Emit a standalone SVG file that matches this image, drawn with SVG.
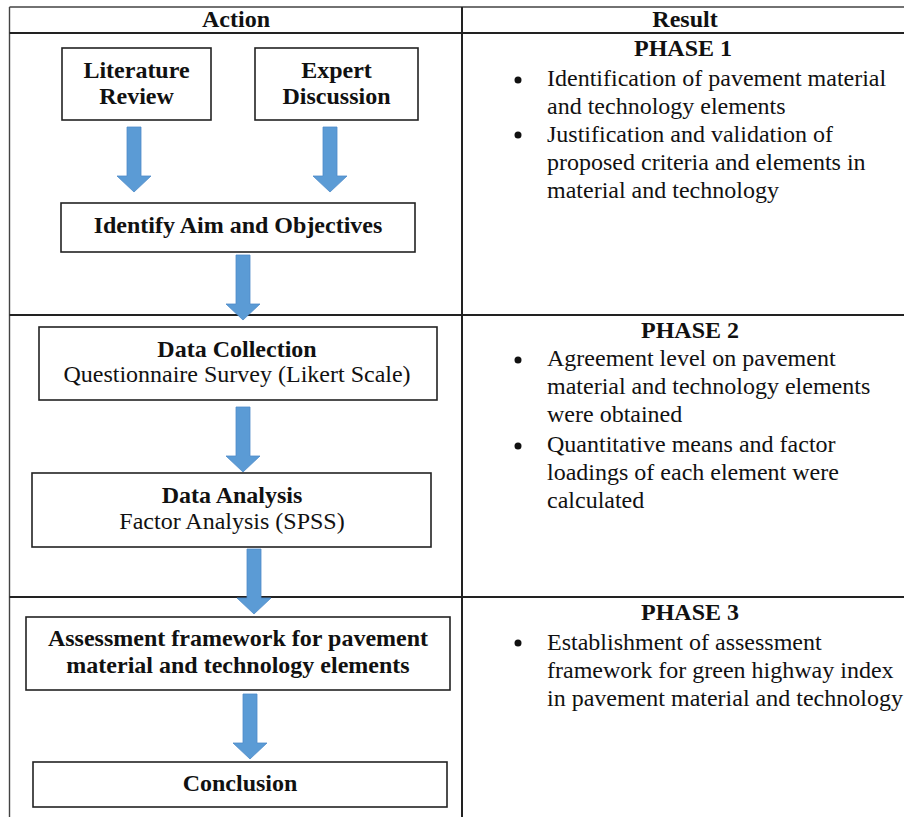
<svg xmlns="http://www.w3.org/2000/svg" width="904" height="817" viewBox="0 0 904 817">
<style>
text{font-family:"Liberation Serif","Times New Roman",serif;font-size:24px;fill:#111}
.b{font-weight:bold}
.c{text-anchor:middle}
.grid{stroke:#222;stroke-width:2;fill:none}
.thin{stroke:#444;stroke-width:1.4;fill:none}
.box{fill:#fff;stroke:#222;stroke-width:1.6}
.arr{fill:#5B9BD5;stroke:#4F8CC9;stroke-width:0.8}
</style>
<defs>
<polygon id="arrow" points="-7,0 7,0 7,49 17,49 0,65 -17,49 -7,49"/>
</defs>
<rect width="904" height="817" fill="#fff"/>
<g id="table">
<path class="thin" d="M9.5,7 H904 M9.5,7 V817"/>
<path class="grid" d="M9.5,33 H904 M9.5,315 H904 M9.5,597 H904 M462,7 V817"/>
<text class="b c" x="236" y="27">Action</text>
<text class="b c" x="685" y="27">Result</text>
</g>
<g id="connectors">
<use href="#arrow" class="arr" x="134" y="127"/>
<use href="#arrow" class="arr" x="330" y="127"/>
<use href="#arrow" class="arr" x="243" y="255"/>
<use href="#arrow" class="arr" x="243" y="407"/>
<use href="#arrow" class="arr" x="254" y="549"/>
<use href="#arrow" class="arr" x="250" y="694"/>
</g>
<g id="literature">
<rect class="box" x="62" y="48" width="149" height="72"/>
<text class="b c" x="136.5" y="78">Literature</text>
<text class="b c" x="136.5" y="104">Review</text>
</g>
<g id="expert">
<rect class="box" x="255" y="48" width="163" height="72"/>
<text class="b c" x="336.5" y="78">Expert</text>
<text class="b c" x="336.5" y="104">Discussion</text>
</g>
<g id="aim">
<rect class="box" x="61" y="203" width="354" height="49"/>
<text class="b c" x="238" y="233">Identify Aim and Objectives</text>
</g>
<g id="collection">
<rect class="box" x="39" y="327" width="398" height="73"/>
<text class="b c" x="237" y="357">Data Collection</text>
<text class="c" x="237" y="382">Questionnaire Survey (Likert Scale)</text>
</g>
<g id="analysis">
<rect class="box" x="32" y="473" width="399" height="74"/>
<text class="b c" x="232" y="503">Data Analysis</text>
<text class="c" x="232" y="529">Factor Analysis (SPSS)</text>
</g>
<g id="framework">
<rect class="box" x="26" y="617" width="424" height="73"/>
<text class="b c" x="238" y="646">Assessment framework for pavement</text>
<text class="b c" x="238" y="673">material and technology elements</text>
</g>
<g id="conclusion">
<rect class="box" x="33" y="762" width="414" height="45"/>
<text class="b c" x="240" y="791">Conclusion</text>
</g>
<g id="phase1">
<text class="b c" x="683" y="56">PHASE 1</text>
<circle cx="518" cy="80" r="3.5" fill="#111"/>
<text x="547" y="86">Identification of pavement material</text>
<text x="547" y="114">and technology elements</text>
<circle cx="518" cy="135" r="3.5" fill="#111"/>
<text x="547" y="142">Justification and validation of</text>
<text x="547" y="170">proposed criteria and elements in</text>
<text x="547" y="198">material and technology</text>
</g>
<g id="phase2">
<text class="b c" x="690" y="338">PHASE 2</text>
<circle cx="518" cy="360" r="3.5" fill="#111"/>
<text x="547" y="366">Agreement level on pavement</text>
<text x="547" y="394">material and technology elements</text>
<text x="547" y="422">were obtained</text>
<circle cx="518" cy="446" r="3.5" fill="#111"/>
<text x="547" y="452">Quantitative means and factor</text>
<text x="547" y="480">loadings of each element were</text>
<text x="547" y="508">calculated</text>
</g>
<g id="phase3">
<text class="b c" x="690" y="620">PHASE 3</text>
<circle cx="518" cy="643" r="3.5" fill="#111"/>
<text x="547" y="650">Establishment of assessment</text>
<text x="547" y="678">framework for green highway index</text>
<text x="547" y="706">in pavement material and technology</text>
</g>
</svg>
